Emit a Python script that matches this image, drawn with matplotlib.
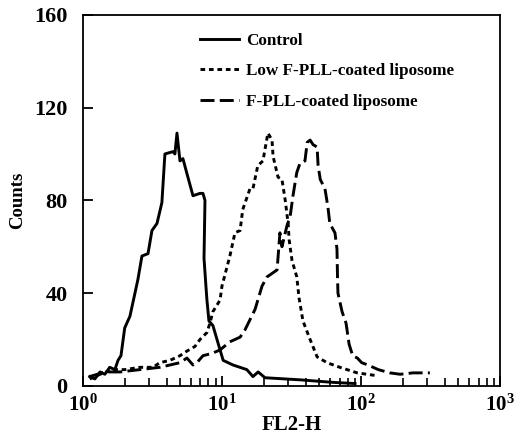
import matplotlib
matplotlib.use("Agg")
import matplotlib.pyplot as plt
import numpy as np

# Font setup: bold Times-like serif everywhere.
plt.rcParams['font.family'] = ['Liberation Serif', 'DejaVu Serif']
plt.rcParams['font.weight'] = 'bold'
plt.rcParams['mathtext.fontset'] = 'custom'
plt.rcParams['mathtext.rm'] = 'Liberation Serif:bold'
plt.rcParams['mathtext.it'] = 'Liberation Serif:bold'
plt.rcParams['mathtext.bf'] = 'Liberation Serif:bold'

# Data (FL2-H value, counts).
control_x = [1.12, 1.22, 1.33, 1.44, 1.56, 1.70, 1.79, 1.88, 2.00, 2.18, 2.37, 2.49,
             2.66, 2.94, 3.14, 3.41, 3.70, 3.89, 4.44, 4.59, 4.75, 4.99, 5.24, 5.69,
             6.19, 6.95, 7.30, 7.55, 7.43, 7.67, 7.80, 8.06, 8.61, 9.21, 10.2, 12.0,
             15.1, 16.7, 18.2, 20.4, 36.4, 62.9, 90.5]
control_y = [4, 3, 6, 5, 8, 7, 11, 13, 25, 30, 40, 46,
             56, 57, 67, 70, 79, 100, 101, 100, 109, 97, 98, 90,
             82, 83, 83, 80, 55, 43, 37, 28, 26, 20, 11, 9,
             7, 4, 6, 3.5, 2.6, 1.5, 1]

low_x = [1.12, 1.33, 1.64, 2.00, 2.57, 3.19, 3.58, 4.23, 4.99, 5.60, 6.40, 6.95,
         7.80, 8.19, 8.61, 9.69, 10.0, 11.4, 12.4, 13.5, 14.1, 15.9, 16.7, 18.1,
         19.7, 21.1, 21.4, 22.9, 23.3, 25.3, 27.0, 28.5, 29.9, 30.4, 31.9, 34.5,
         35.8, 38.2, 43.0, 48.3, 56.9, 70.4, 93.7, 110, 126]
low_y = [3, 5, 7, 7, 8, 8, 10, 11, 13, 15, 17, 20,
         23, 27, 32, 37, 43, 56, 66, 67, 76, 85, 85, 95,
         97, 107, 109, 106, 99, 90, 89, 80, 70, 63, 54, 47,
         38, 28, 20, 12.5, 10, 8, 5.6, 5, 4.5]

fpll_x = [1.12, 1.44, 1.85, 2.57, 3.58, 4.99, 5.60, 6.19, 6.61, 7.30, 8.48, 9.69,
          11.4, 13.5, 14.6, 17.3, 19.4, 21.1, 24.9, 26.1, 27.0, 29.3, 30.9, 32.4,
          34.5, 36.4, 39.5, 41.0, 43.0, 45.2, 48.3, 49.1, 50.9, 55.0, 57.8, 59.6,
          64.9, 67.1, 67.7, 68.2, 73.0, 78.0, 82.0, 87.0, 94.0, 101, 112, 133,
          161, 191, 236, 312]
fpll_y = [4, 6, 6, 7, 8, 10, 12, 9, 10, 13, 14, 15.5,
          19, 21, 24, 33, 43, 47, 50, 66, 60, 69, 73, 82,
          92, 96, 97, 105, 106, 104, 103, 95, 89, 85, 77, 70,
          66, 59, 47, 40, 32, 27, 18, 13, 12, 10, 9, 7,
          5.6, 5, 5.6, 5.6]

labels = ['Control', 'Low F-PLL-coated liposome', 'F-PLL-coated liposome']
y_ticks = [0, 40, 80, 120, 160]
x_ticks = [1, 10, 100, 1000]
x_tick_labels = [r'$10^{0}$', r'$10^{1}$', r'$10^{2}$', r'$10^{3}$']

fig = plt.figure(figsize=(5.31, 4.36), dpi=100)
ax = fig.add_axes([0.156, 0.115, 0.786, 0.851])

lw = 2.1
ax.plot(control_x, control_y, color='black', lw=lw, linestyle='-', label=labels[0])
ax.plot(low_x, low_y, color='black', lw=lw, linestyle=(0, (1.6, 1.3)), label=labels[1])
ax.plot(fpll_x, fpll_y, color='black', lw=lw, linestyle=(0, (4.8, 1.8)), label=labels[2])

ax.set_xscale('log')
ax.set_xlim(1, 1000)
ax.set_ylim(0, 160)
ax.set_yticks(y_ticks)
ax.set_xticks(x_ticks)
ax.set_xticklabels(x_tick_labels)

ax.tick_params(axis='y', which='major', direction='in', length=7, width=1.3,
               labelsize=16, pad=11)
ax.tick_params(axis='x', which='major', direction='in', length=7, width=1.3,
               labelsize=15, pad=6)
ax.tick_params(axis='x', which='minor', direction='in', length=6, width=1.2)
ax.tick_params(axis='y', which='both', right=False)
ax.tick_params(axis='x', which='both', top=False)

for spine in ax.spines.values():
    spine.set_linewidth(1.3)

ax.set_xlabel('FL2-H', fontsize=15, fontweight='bold', labelpad=0)
ax.set_ylabel('Counts', fontsize=13.5, fontweight='bold', labelpad=6)

ax.legend(loc='upper left', bbox_to_anchor=(0.28, 0.952), frameon=False,
          fontsize=12.3, handlelength=2.3, handletextpad=0.4, labelspacing=0.85,
          borderpad=0, borderaxespad=0)

fig.savefig('out.png', dpi=100)
